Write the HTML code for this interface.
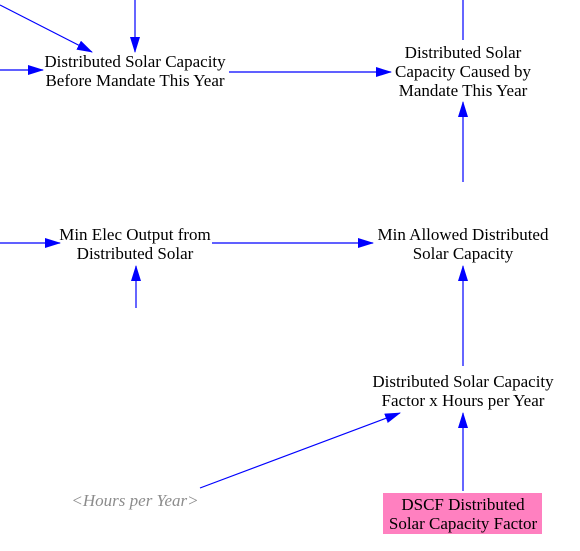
<!DOCTYPE html>
<html><head><style>
body{margin:0;width:580px;height:551px;background:#fff;position:relative;overflow:hidden;font-family:"Liberation Serif",serif;font-size:17px;color:#000}
.t{position:absolute;text-align:center;line-height:19px;white-space:nowrap;transform:translateX(-50%)}
svg{position:absolute;left:0;top:0}
</style></head><body>
<svg width="580" height="551">
<defs><marker id="a" markerWidth="16" markerHeight="10" refX="15" refY="5" orient="auto" markerUnits="userSpaceOnUse"><path d="M0,0 L16,5 L0,10 z" fill="#0000ff"/></marker></defs>
<g stroke="#0000ff" stroke-width="1.2" fill="none">
<line x1="0" y1="5" x2="92" y2="52" marker-end="url(#a)"/>
<line x1="135" y1="0" x2="135" y2="52" marker-end="url(#a)"/>
<line x1="0" y1="70" x2="43" y2="70" marker-end="url(#a)"/>
<line x1="229" y1="72" x2="391" y2="72" marker-end="url(#a)"/>
<line x1="463" y1="0" x2="463" y2="40"/>
<line x1="463" y1="182" x2="463" y2="102" marker-end="url(#a)"/>
<line x1="0" y1="243" x2="60" y2="243" marker-end="url(#a)"/>
<line x1="212" y1="243" x2="373" y2="243" marker-end="url(#a)"/>
<line x1="136" y1="308" x2="136" y2="266" marker-end="url(#a)"/>
<line x1="463" y1="366" x2="463" y2="266" marker-end="url(#a)"/>
<line x1="200" y1="488" x2="400" y2="413" marker-end="url(#a)"/>
<line x1="463" y1="491" x2="463" y2="413" marker-end="url(#a)"/>
</g>
</svg>
<div class="t" style="left:135px;top:52px">Distributed Solar Capacity<br>Before Mandate This Year</div>
<div class="t" style="left:463px;top:43px">Distributed Solar<br>Capacity Caused by<br>Mandate This Year</div>
<div class="t" style="left:135px;top:225px">Min Elec Output from<br>Distributed Solar</div>
<div class="t" style="left:463px;top:225px">Min Allowed Distributed<br>Solar Capacity</div>
<div class="t" style="left:463px;top:372px">Distributed Solar Capacity<br>Factor x Hours per Year</div>
<div class="t" style="left:135px;top:491px;color:#8c8c8c;font-style:italic">&lt;Hours per Year&gt;</div>
<div style="position:absolute;left:383px;top:493px;width:159px;height:41px;background:#ff80c0"></div>
<div class="t" style="left:463px;top:495px">DSCF Distributed<br>Solar Capacity Factor</div>
</body></html>
